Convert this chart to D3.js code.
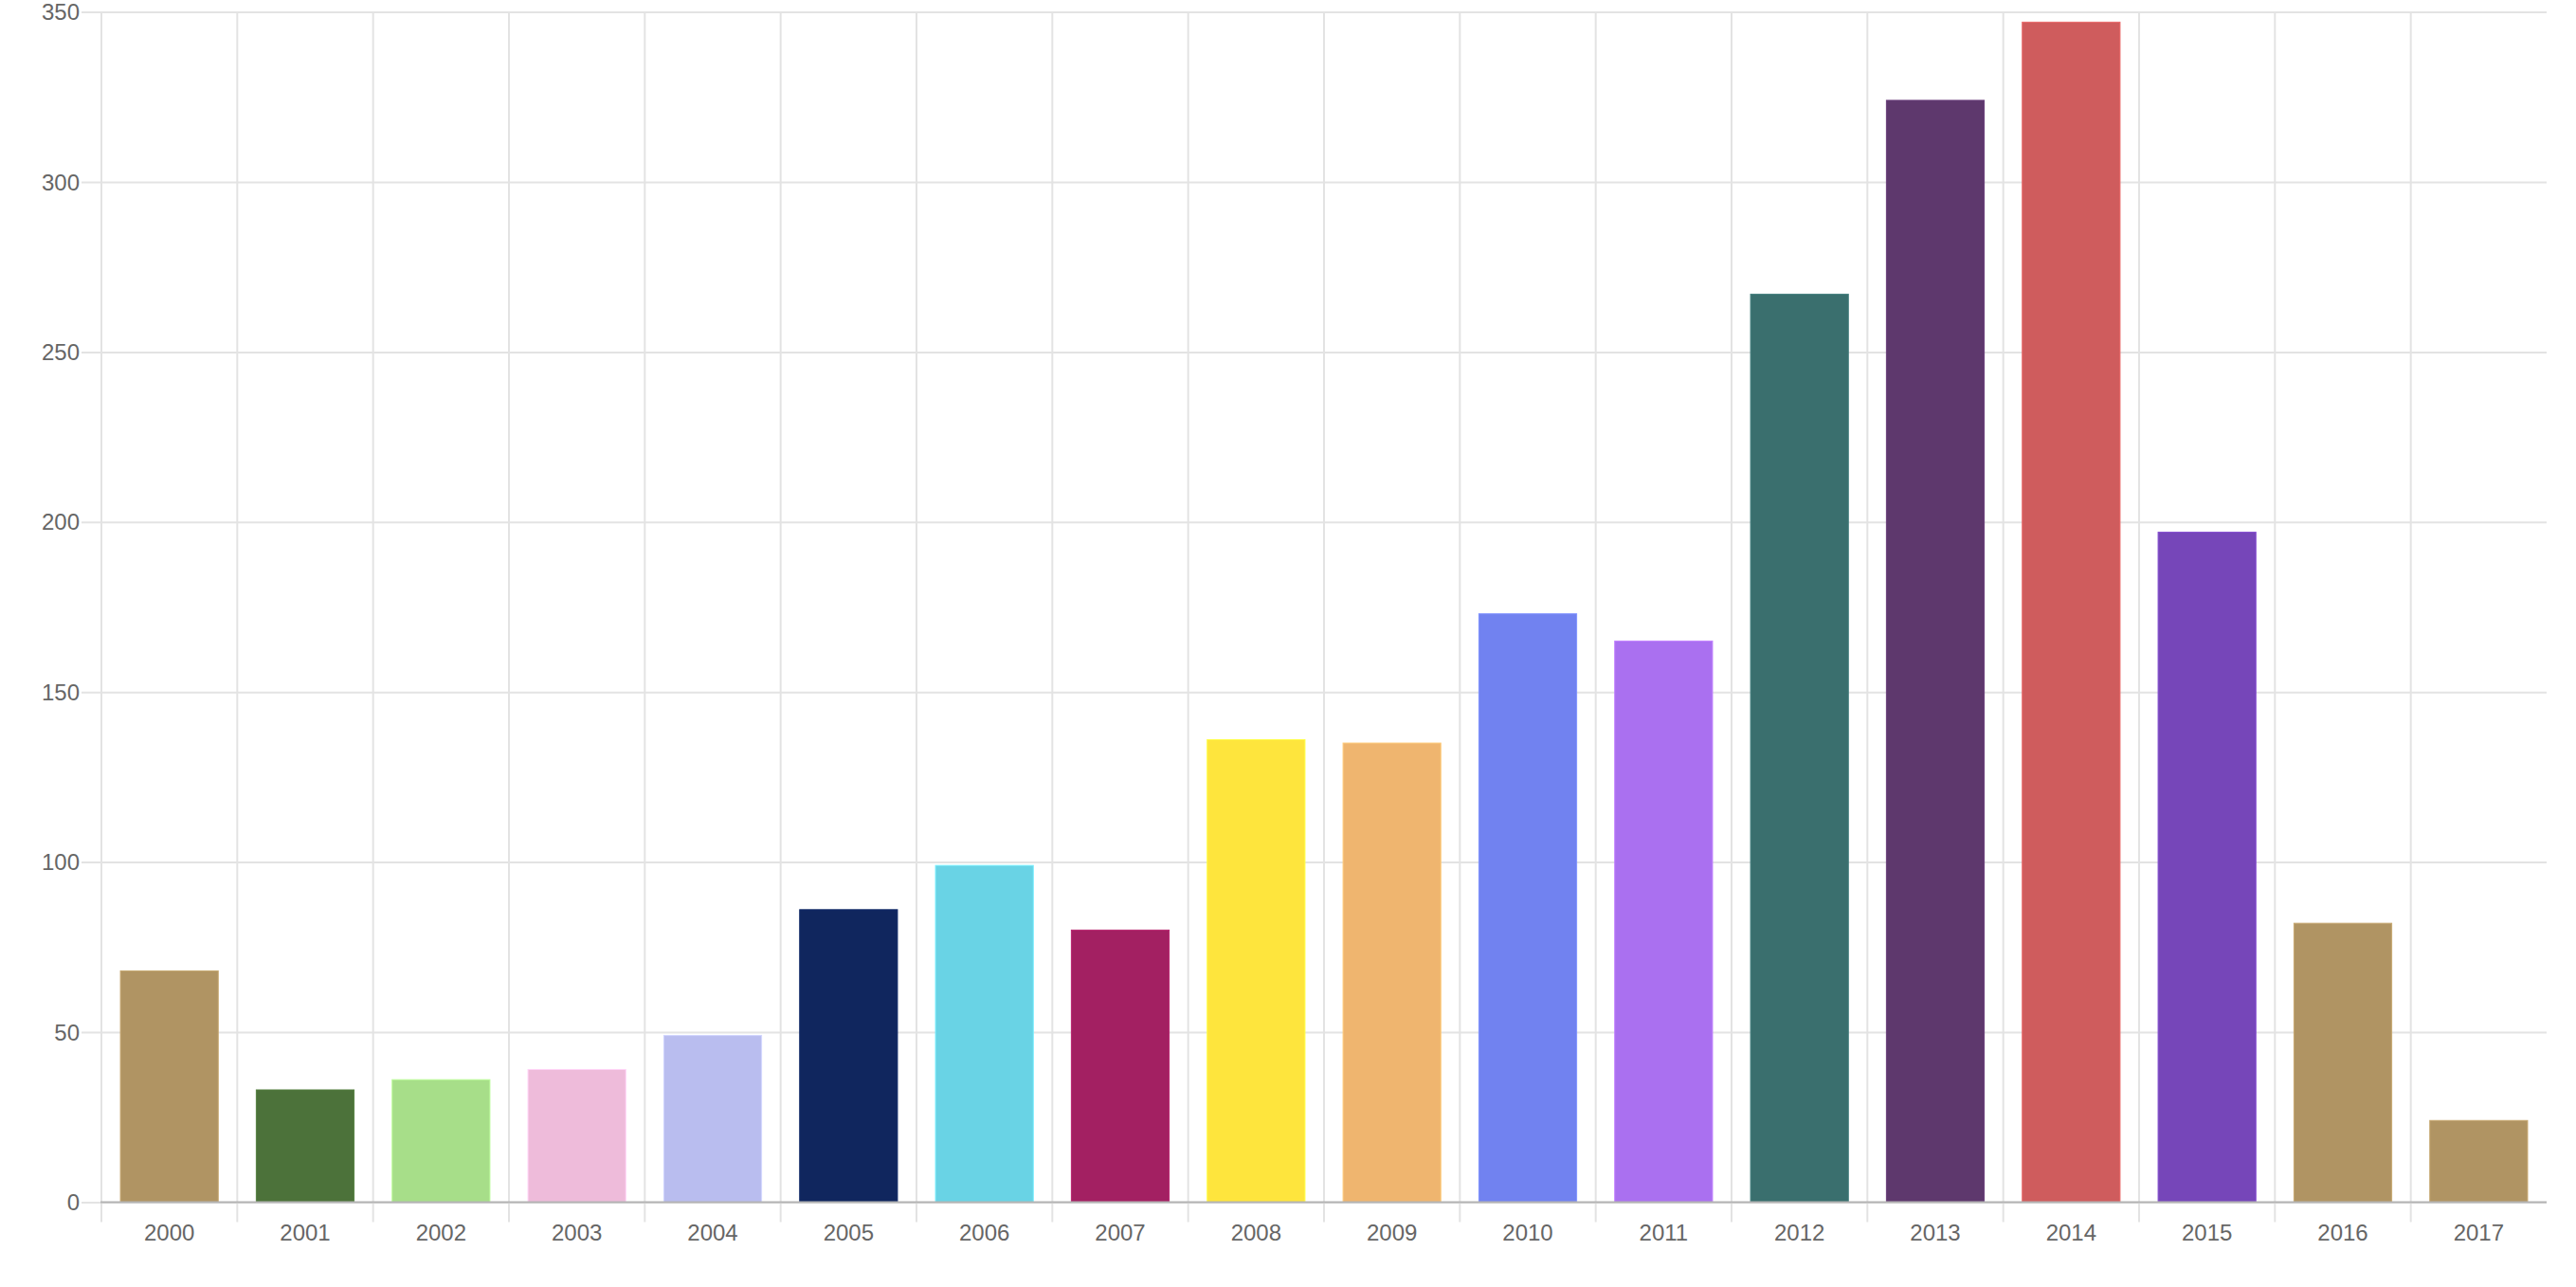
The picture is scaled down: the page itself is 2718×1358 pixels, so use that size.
<!DOCTYPE html>
<html>
<head>
<meta charset="utf-8">
<script src="https://cdn.jsdelivr.net/npm/d3@7"></script>
<style>
  html, body { margin: 0; padding: 0; background: #fff; }
  svg text { font-family: "Liberation Sans", Arial, sans-serif; fill: #666; }
</style>
</head>
<body>
<div id="chart"></div>
<script>
// data
var years = ["2000", "2001", "2002", "2003", "2004", "2005", "2006", "2007", "2008",
             "2009", "2010", "2011", "2012", "2013", "2014", "2015", "2016", "2017"];
var counts = [68, 33, 36, 39, 49, 86, 99, 80, 136, 135, 173, 165, 267, 324, 347, 197, 82, 24];
var barColors = ["#b09463", "#4c723a", "#a7de89", "#eebbda", "#b9bdef", "#10265e",
                 "#69d3e5", "#a32062", "#fee53d", "#efb56f", "#7182f0", "#aa70f0",
                 "#3a6f6e", "#5e386d", "#cf5c5d", "#7646b9", "#b09463", "#b09463"];
var yTicks = [0, 50, 100, 150, 200, 250, 300, 350];

const width = 2718;
const height = 1358;
const plotLeft = 107;
const plotRight = 2687;
const plotTop = 12.6;
const plotBottom = 1268.4;

var data = years.map(function(y, i) { return { year: y, value: counts[i], color: barColors[i] }; });

var chart = d3.select('#chart')
    .append('svg')
    .attr('width', width)
    .attr('height', height);

var x = d3.scaleBand()
    .domain(years)
    .range([plotLeft, plotRight])
    .paddingInner(0)
    .paddingOuter(0);

var y = d3.scaleLinear()
    .domain([0, 350])
    .range([plotBottom, plotTop]);

var barW = x.bandwidth() * 0.72;

// horizontal grid + y labels
var yAxis = chart.append('g')
    .attr('class', 'yaxis')
    .attr('transform', 'translate(' + plotLeft + ',0)')
    .call(d3.axisLeft(y).tickValues(yTicks).tickSizeOuter(0));
yAxis.select('.domain').remove();
yAxis.selectAll('.tick line')
    .attr('x1', -21)
    .attr('x2', plotRight - plotLeft)
    .attr('stroke', '#e3e3e3')
    .attr('stroke-width', 2);
yAxis.selectAll('.tick text')
    .attr('x', -23)
    .attr('dy', '0.34em')
    .style('font-size', '24px');

// vertical grid at category edges
chart.append('g').selectAll('line')
    .data(years)
    .enter().append('line')
    .attr('x1', function(d) { return x(d); })
    .attr('x2', function(d) { return x(d); })
    .attr('y1', plotTop)
    .attr('y2', plotBottom + 21)
    .attr('stroke', '#e3e3e3')
    .attr('stroke-width', 2);

// bars
chart.append('g').selectAll('rect')
    .data(data)
    .enter().append('rect')
    .attr('x', function(d) { return x(d.year) + (x.bandwidth() - barW) / 2; })
    .attr('y', function(d) { return y(d.value); })
    .attr('width', barW)
    .attr('height', function(d) { return y(0) - y(d.value); })
    .style('fill', function(d) { return d.color; })
    .style('stroke', function(d) { return d3.color(d.color).brighter(0.35); })
    .style('stroke-width', 1);

// x labels
var xAxis = chart.append('g')
    .attr('class', 'xaxis')
    .attr('transform', 'translate(0,' + plotBottom + ')')
    .call(d3.axisBottom(x).tickSize(0).tickPadding(0));
xAxis.select('.domain').remove();
xAxis.selectAll('.tick text')
    .attr('y', 40.5)
    .attr('dy', 0)
    .style('font-size', '24px');

// zero line on top
chart.append('line')
    .attr('x1', plotLeft - 1)
    .attr('x2', plotRight)
    .attr('y1', y(0))
    .attr('y2', y(0))
    .attr('stroke', '#b4b4b4')
    .attr('stroke-width', 2);
</script>
</body>
</html>
